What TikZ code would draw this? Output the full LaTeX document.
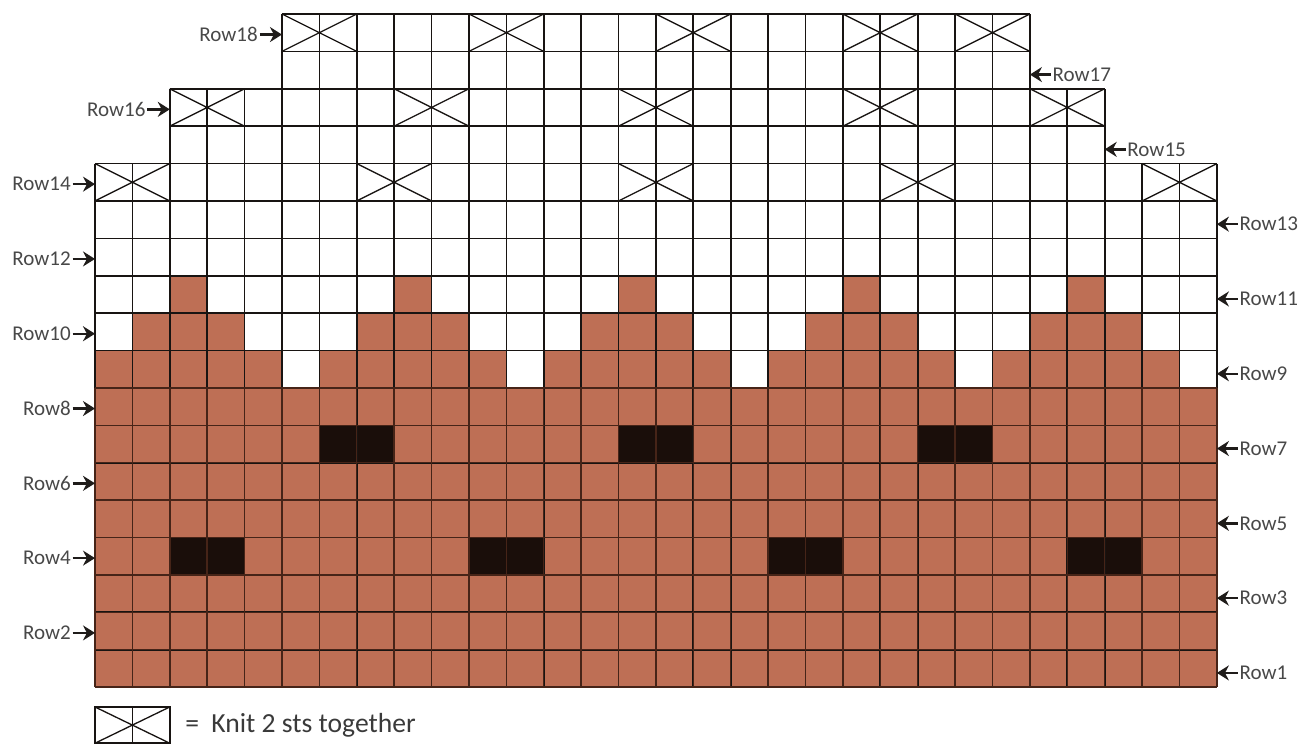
\documentclass[tikz,border=0pt]{standalone}
\usepackage{fontspec}
\setmainfont{Carlito}
\usepackage{tikz}
\usetikzlibrary{arrows.meta, positioning}
\definecolor{mc}{RGB}{190,111,85}
\definecolor{bobble}{RGB}{26,14,10}
\definecolor{mesh}{RGB}{24,20,18}
\definecolor{meshbrown}{RGB}{70,36,24}
\definecolor{labgray}{RGB}{72,72,72}
\tikzset{
  gridline/.style = {draw=mesh, line width=0.65pt, step=0.5cm},
  browngrid/.style = {draw=meshbrown, line width=0.55pt, step=0.5cm},
  ktog/.style = {draw=mesh, line width=0.5pt},
  rowlab/.style = {font=\fontsize{8}{9}\selectfont, text=labgray, inner sep=0.5pt},
  arrow/.style = {-{Stealth[length=1.6mm, width=2mm]}, line width=0.9pt, draw=mesh!85!labgray},
}

\begin{document}
\begin{tikzpicture}[x=0.5cm, y=0.5cm]

    \useasboundingbox (-2.54,-1.521) rectangle (32.41,18.374);

    % Main colour and bobbles
    \fill[mc] (0,0) rectangle (30,9);
    \foreach \c in {6,12,18,24,30}
      \fill[white] (\c-1,8) rectangle (\c,9);
    \foreach \p in {3,9,15,21,27} {
      \fill[mc] (\p-2,9) rectangle (\p+1,10);
      \fill[mc] (\p-1,10) rectangle (\p,11);
    }
    \foreach \c in {7,15,23}
      \fill[bobble] (\c-1,6) rectangle (\c+1,7);
    \foreach \c in {3,11,19,27}
      \fill[bobble] (\c-1,3) rectangle (\c+1,4);

    % Grid
    \draw[gridline] (0,0) grid (30,14);
    \draw[gridline] (2,14) grid (27,16);
    \draw[gridline] (5,16) grid (25,18);
    \draw[browngrid] (0,0) grid (30,8);

    % Knit 2 together
    \foreach \r/\c in {14/1, 14/8, 14/15, 14/22, 14/29,
                       16/3, 16/9, 16/15, 16/21, 16/26,
                       18/6, 18/11, 18/16, 18/21, 18/24}
      \draw[ktog] (\c-1,\r) -- (\c+1,\r-1) (\c-1,\r-1) -- (\c+1,\r);

    % Row labels
    \foreach \r/\x in {18/5, 16/2, 14/0, 12/0, 10/0, 8/0, 6/0, 4/0, 2/0} {
      \coordinate (L\r) at (\x,\r-0.55);
      \node[rowlab, left=0.3cm of L\r] (lab\r) {Row\r};
      \draw[arrow] (lab\r) -- (L\r);
    }
    \foreach \r/\x in {17/25, 15/27, 13/30, 11/30, 9/30, 7/30, 5/30, 3/30, 1/30} {
      \coordinate (R\r) at (\x,\r-0.62);
      \node[rowlab, right=0.28cm of R\r] (lab\r) {Row\r};
      \draw[arrow] (lab\r) -- (R\r);
    }

    % Key
    \draw[gridline] (0,-1.5) rectangle (2,-0.53) (1,-1.5) -- (1,-0.53);
    \draw[ktog] (0,-0.53) -- (2,-1.5) (0,-1.5) -- (2,-0.53);
    \coordinate (key) at (2,-1.02);
    \node[anchor=west, right=0.2cm of key, inner sep=0pt, font=\fontsize{10.5}{12}\selectfont, text=labgray!80!black] (keytext) {=\ \ Knit 2 sts together};

\end{tikzpicture}
\end{document}
